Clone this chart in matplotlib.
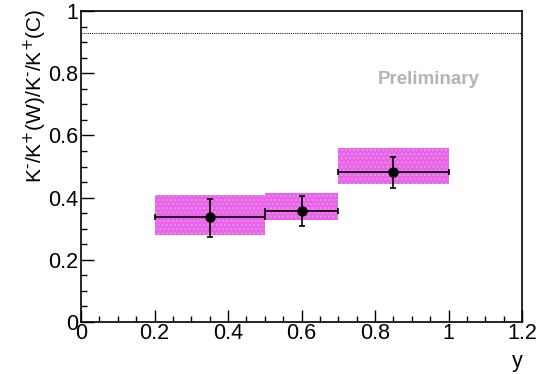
import matplotlib
matplotlib.use("Agg")
import matplotlib.pyplot as plt
from matplotlib.patches import Rectangle
from matplotlib.ticker import MultipleLocator

plt.rcParams['font.family'] = ['Liberation Sans', 'DejaVu Sans']

# data
x_centers = [0.35, 0.6, 0.85]
x_low = [0.2, 0.5, 0.7]
x_high = [0.5, 0.7, 1.0]
ratio = [0.337, 0.358, 0.482]
stat_lo = [0.274, 0.310, 0.432]
stat_hi = [0.395, 0.406, 0.530]
sys_lo = [0.281, 0.329, 0.445]
sys_hi = [0.408, 0.415, 0.560]
ref_level = 0.93

W, H = 539, 374
fig = plt.figure(figsize=(W/100, H/100), dpi=100)
ax = fig.add_axes([81/W, 1-322/H, (522-81)/W, (322-11)/H])

for xl, xh, lo, hi in zip(x_low, x_high, sys_lo, sys_hi):
    ax.add_patch(Rectangle((xl, lo), xh - xl, hi - lo, facecolor='#f25cf2',
                           edgecolor='#c8a8c8', hatch='....', linewidth=0, zorder=1))

ax.axhline(ref_level, color='black', linestyle=(0, (1, 1.2)), linewidth=0.7, zorder=2)

xerr = [[c - l for c, l in zip(x_centers, x_low)], [h - c for c, h in zip(x_centers, x_high)]]
yerr = [[r - l for r, l in zip(ratio, stat_lo)], [h - r for r, h in zip(ratio, stat_hi)]]
ax.errorbar(x_centers, ratio, xerr=xerr, yerr=yerr, fmt='o', color='black',
            markersize=6.5, elinewidth=1.2, capsize=2, capthick=1.2, zorder=3)

ax.set_xlim(0, 1.2)
ax.set_ylim(0, 1)
ax.xaxis.set_minor_locator(MultipleLocator(0.05))
ax.yaxis.set_minor_locator(MultipleLocator(0.05))
ax.set_xticks([0, 0.2, 0.4, 0.6, 0.8, 1.0, 1.2])
ax.set_xticklabels(['0', '0.2', '0.4', '0.6', '0.8', '1', '1.2'])
ax.set_yticks([0, 0.2, 0.4, 0.6, 0.8, 1.0])
ax.set_yticklabels(['0', '0.2', '0.4', '0.6', '0.8', '1'])
ax.tick_params(which='major', direction='in', length=9, width=1, labelsize=15.5, top=False, right=False)
ax.tick_params(which='minor', direction='in', length=4.5, width=1, top=False, right=False)
ax.tick_params(axis='x', pad=1)
ax.tick_params(axis='y', pad=2)
for s in ax.spines.values():
    s.set_linewidth(1.2)

fig.text(517/W, 1-362/H, 'y', fontsize=15.5, ha='center', va='center')
fig.text(35/W, 1-8/H, 'K$^{\\mathsf{\u2010}}$/K$^{\\mathsf{+}}$(W)/K$^{\\mathsf{\u2010}}$/K$^{\\mathsf{+}}$(C)',
         fontsize=15, rotation=90, ha='center', va='top')

ax.text((429-81)/441, (322-80)/311, 'Preliminary', transform=ax.transAxes, ha='center', va='center',
        fontsize=13.5, fontweight='bold', color='#b4b4b4')

fig.savefig('out.png', dpi=100)
